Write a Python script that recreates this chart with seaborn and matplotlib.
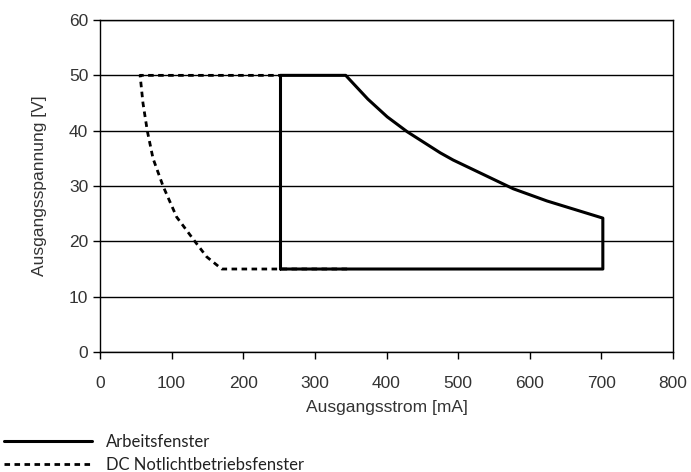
import pandas as pd
import matplotlib
matplotlib.use("Agg")
import matplotlib.pyplot as plt
import seaborn as sns

# Operating window (closed outline), current in mA, voltage in V
work_current = [252, 252, 343, 374, 401, 429, 475, 493, 577, 624, 702, 702, 252]
work_voltage = [15, 50, 50, 45.7, 42.5, 39.8, 36.0, 34.7, 29.5, 27.3, 24.2, 15, 15]

# DC emergency lighting window
dc_current = [345, 170, 149, 133, 107, 88, 74, 66, 60, 56, 252]
dc_voltage = [15, 15, 17.2, 19.9, 24.4, 30, 35, 40, 45, 50, 50]

x_ticks = [0, 100, 200, 300, 400, 500, 600, 700, 800]
y_ticks = [0, 10, 20, 30, 40, 50, 60]

sns.set_style("white")
plt.rcParams["font.family"] = ["Liberation Sans", "DejaVu Sans"]

fig = plt.figure(figsize=(6.91, 4.72), dpi=100)
ax = fig.add_axes([0.1447, 0.2542, 0.8293, 0.7034])

work = pd.DataFrame({"I": work_current, "U": work_voltage})
dc = pd.DataFrame({"I": dc_current, "U": dc_voltage})

sns.lineplot(data=work, x="I", y="U", sort=False, estimator=None, color="black",
             lw=2.2, ax=ax, label="Arbeitsfenster", zorder=3)
sns.lineplot(data=dc, x="I", y="U", sort=False, estimator=None, color="black",
             lw=2.0, ax=ax, label="DC Notlichtbetriebsfenster", zorder=3)
ax.lines[1].set_dashes([2, 1.6])

ax.set_xlim(0, 800)
ax.set_ylim(0, 60)
ax.set_xticks(x_ticks)
ax.set_yticks(y_ticks)
ax.yaxis.grid(True, color="black", lw=1)
ax.set_axisbelow(True)
for s in ax.spines.values():
    s.set_color("black")
    s.set_linewidth(1)
ax.tick_params(axis="both", direction="out", length=5, width=1, color="black",
               labelsize=12.5, labelcolor="#333333", bottom=True, left=True)
ax.tick_params(axis="x", pad=12)
ax.set_xlabel("Ausgangsstrom [mA]", fontsize=12.5, color="#333333", labelpad=7)
ax.set_ylabel("Ausgangsspannung [V]", fontsize=12.5, color="#333333", labelpad=16)

ax.get_legend().remove()
handles, labels = ax.get_legend_handles_labels()
fig.legend(handles, labels, loc="upper left", bbox_to_anchor=(-0.004, 0.095),
           frameon=False, handlelength=5.3, handletextpad=0.85, labelspacing=0.45,
           prop={"family": "Lato", "weight": "normal", "size": 12},
           labelcolor="#222222", borderaxespad=0)

fig.savefig("out.png", dpi=100)
